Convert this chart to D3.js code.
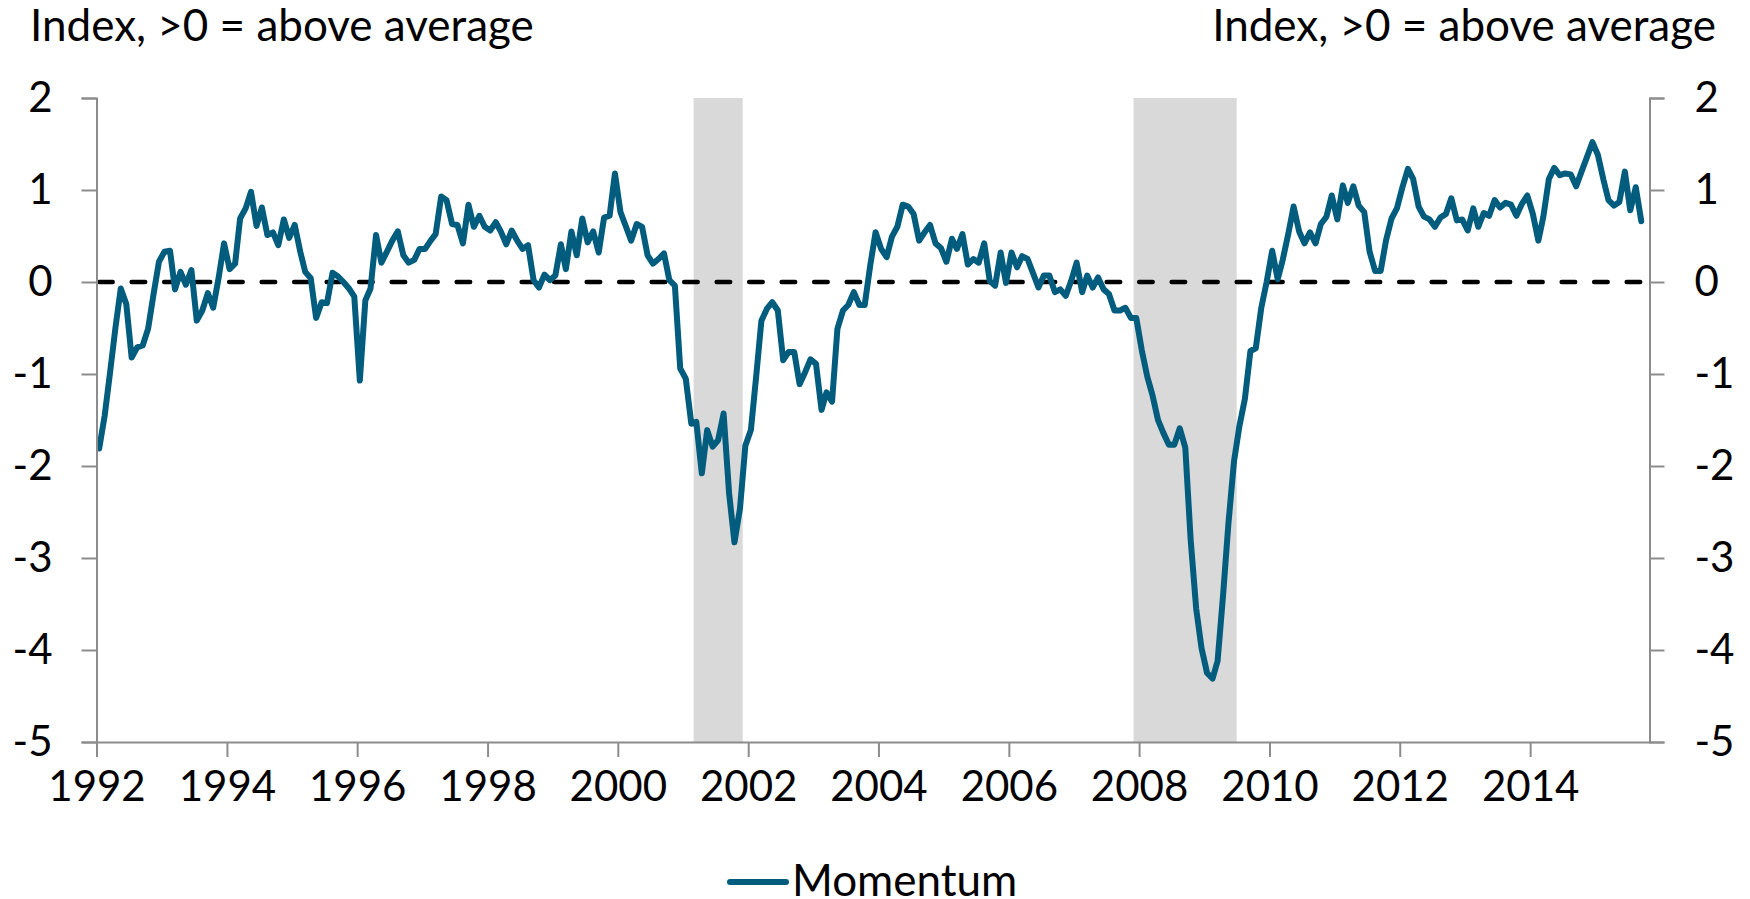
<!DOCTYPE html>
<html>
<head>
<meta charset="utf-8">
<script src="https://cdn.jsdelivr.net/npm/d3@7"></script>
<style>
	html, body { margin: 0; padding: 0; background: #fff; }
	svg { display: block; }
	text { font-family: Lato, "Open Sans", sans-serif; fill: #000; }
</style>
</head>
<body>
<div id="chart"></div>
<script>
/* global d3 */

// monthly series, first value is Jan 1992, last is Sep 2015 (one row per year)
var startYear = 1992;
var momentum = [
	-1.81, -1.45, -1.00, -0.50, -0.07, -0.24, -0.82, -0.71, -0.69, -0.51, -0.13, 0.22,
	0.33, 0.34, -0.08, 0.11, -0.03, 0.13, -0.42, -0.31, -0.12, -0.28, 0.05, 0.42,
	0.14, 0.20, 0.69, 0.80, 0.98, 0.61, 0.81, 0.51, 0.54, 0.40, 0.68, 0.48,
	0.62, 0.33, 0.11, 0.04, -0.39, -0.22, -0.23, 0.10, 0.06, 0.00, -0.07, -0.16,
	-1.07, -0.20, -0.07, 0.51, 0.21, 0.33, 0.45, 0.55, 0.29, 0.21, 0.24, 0.36,
	0.36, 0.45, 0.52, 0.93, 0.89, 0.63, 0.62, 0.42, 0.84, 0.60, 0.72, 0.60,
	0.56, 0.65, 0.55, 0.41, 0.56, 0.45, 0.36, 0.40, 0.02, -0.06, 0.08, 0.02,
	0.07, 0.41, 0.14, 0.55, 0.29, 0.69, 0.43, 0.55, 0.32, 0.70, 0.72, 1.18,
	0.76, 0.60, 0.45, 0.63, 0.60, 0.29, 0.20, 0.25, 0.31, 0.02, -0.04, -0.94,
	-1.05, -1.54, -1.52, -2.08, -1.61, -1.79, -1.72, -1.43, -2.30, -2.83, -2.46, -1.78,
	-1.61, -1.00, -0.42, -0.29, -0.22, -0.31, -0.85, -0.76, -0.76, -1.11, -0.98, -0.84,
	-0.89, -1.39, -1.20, -1.30, -0.51, -0.31, -0.25, -0.11, -0.25, -0.25, 0.18, 0.54,
	0.36, 0.27, 0.49, 0.60, 0.84, 0.82, 0.74, 0.45, 0.54, 0.62, 0.42, 0.37,
	0.22, 0.47, 0.36, 0.52, 0.19, 0.25, 0.21, 0.42, 0.01, -0.04, 0.32, -0.01,
	0.32, 0.16, 0.28, 0.25, 0.10, -0.06, 0.07, 0.07, -0.11, -0.08, -0.15, 0.01,
	0.21, -0.11, 0.07, -0.06, 0.05, -0.08, -0.13, -0.31, -0.31, -0.28, -0.39, -0.39,
	-0.74, -1.03, -1.23, -1.50, -1.64, -1.77, -1.77, -1.59, -1.80, -2.80, -3.55, -3.98,
	-4.25, -4.31, -4.12, -3.40, -2.62, -1.95, -1.57, -1.27, -0.75, -0.72, -0.28, 0.00,
	0.34, 0.03, 0.24, 0.52, 0.82, 0.55, 0.42, 0.54, 0.42, 0.63, 0.71, 0.94,
	0.68, 1.05, 0.86, 1.04, 0.83, 0.76, 0.33, 0.12, 0.12, 0.45, 0.69, 0.80,
	1.03, 1.23, 1.12, 0.82, 0.71, 0.68, 0.60, 0.70, 0.74, 0.91, 0.67, 0.68,
	0.56, 0.80, 0.60, 0.75, 0.72, 0.89, 0.81, 0.86, 0.84, 0.72, 0.85, 0.94,
	0.74, 0.45, 0.71, 1.12, 1.24, 1.16, 1.18, 1.17, 1.04, 1.20, 1.36, 1.52,
	1.38, 1.11, 0.89, 0.83, 0.87, 1.20, 0.78, 1.03, 0.66
];

// recessions as [year, month index] start / end (end exclusive)
var recessionStart = [[2001, 2], [2007, 11]];
var recessionEnd = [[2001, 11], [2009, 6]];

var yTicks = [2, 1, 0, -1, -2, -3, -4, -5];
var xTickYears = [1992, 1994, 1996, 1998, 2000, 2002, 2004, 2006, 2008, 2010, 2012, 2014];
var axisLabel = "Index, >0 = above average";
var seriesName = "Momentum";

var width = 1750,
	height = 899,
	margin = {top: 98, right: 100, bottom: 157, left: 96.5},
	innerWidth = 1553,
	innerHeight = height - margin.top - margin.bottom,
	lineColor = "#015c7e",
	axisColor = "#8c8c8c";

var data = momentum.map(function(v, i) {
	return {date: new Date(startYear, i, 16), value: v};
});

var xScale = d3.scaleTime()
	.domain([new Date(startYear, 0, 1), new Date(2015, 10, 1)])
	.range([0, innerWidth]);

var yScale = d3.scaleLinear()
	.domain([-5, 2])
	.range([innerHeight, 0]);

var svg = d3.select("#chart").append("svg")
	.attr("width", width)
	.attr("height", height);

var g = svg.append("g")
	.attr("transform", "translate(" + margin.left + "," + margin.top + ")");

// recession shading
g.selectAll("rect.recession")
	.data(recessionStart.map(function(s, i) { return [s, recessionEnd[i]]; }))
	.enter().append("rect")
	.attr("class", "recession")
	.attr("x", function(d) { return xScale(new Date(d[0][0], d[0][1], 1)); })
	.attr("width", function(d) { return xScale(new Date(d[1][0], d[1][1], 1)) - xScale(new Date(d[0][0], d[0][1], 1)); })
	.attr("y", yScale(2))
	.attr("height", yScale(-5) - yScale(2))
	.attr("fill", "#d9d9d9");

var line = d3.line()
	.x(function(d) { return xScale(d.date); })
	.y(function(d) { return yScale(d.value); });

// zero reference line
g.append("path")
	.datum(data.map(function(d) { return {date: d.date, value: 0}; }))
	.attr("fill", "none")
	.attr("stroke", "#000")
	.attr("stroke-width", 4.5)
	.attr("stroke-linecap", "round")
	.attr("stroke-dasharray", "13.5,19")
	.attr("d", line);

g.append("path")
	.datum(data)
	.attr("fill", "none")
	.attr("stroke", lineColor)
	.attr("stroke-width", 6)
	.attr("stroke-linejoin", "round")
	.attr("stroke-linecap", "round")
	.attr("d", line);

// plain hyphen for negatives, as in the original
function tickText(d) { return String(d); }

function styleAxis(sel) {
	sel.select(".domain").attr("stroke", axisColor).attr("stroke-width", 2);
	sel.selectAll(".tick line").attr("stroke", axisColor).attr("stroke-width", 2);
	sel.selectAll(".tick text").attr("fill", "#000");
	sel.attr("font-family", null).attr("font-size", 42);
}

g.append("g")
	.call(d3.axisLeft(yScale).tickValues(yTicks).tickSize(15).tickPadding(29).tickFormat(tickText))
	.call(styleAxis);

g.append("g")
	.attr("transform", "translate(" + innerWidth + ",0)")
	.call(d3.axisRight(yScale).tickValues(yTicks).tickSize(15).tickPadding(30).tickFormat(tickText))
	.call(styleAxis);

g.append("g")
	.attr("transform", "translate(0," + innerHeight + ")")
	.call(d3.axisBottom(xScale)
		.tickValues(xTickYears.map(function(y) { return new Date(y, 0, 1); }))
		.tickSize(15).tickSizeOuter(0).tickPadding(14)
		.tickFormat(d3.timeFormat("%Y")))
	.call(styleAxis);

// axis titles
svg.append("text")
	.attr("x", 30)
	.attr("y", 41)
	.attr("font-size", 44)
	.text(axisLabel);

svg.append("text")
	.attr("x", 1716)
	.attr("y", 41)
	.attr("font-size", 44)
	.attr("text-anchor", "end")
	.text(axisLabel);

// legend
var legend = svg.append("g")
	.attr("transform", "translate(730,882)");

legend.append("line")
	.attr("x1", 0)
	.attr("x2", 56)
	.attr("stroke", lineColor)
	.attr("stroke-width", 6)
	.attr("stroke-linecap", "round");

legend.append("text")
	.attr("x", 62)
	.attr("y", 14)
	.attr("font-size", 44)
	.text(seriesName);
</script>
</body>
</html>
